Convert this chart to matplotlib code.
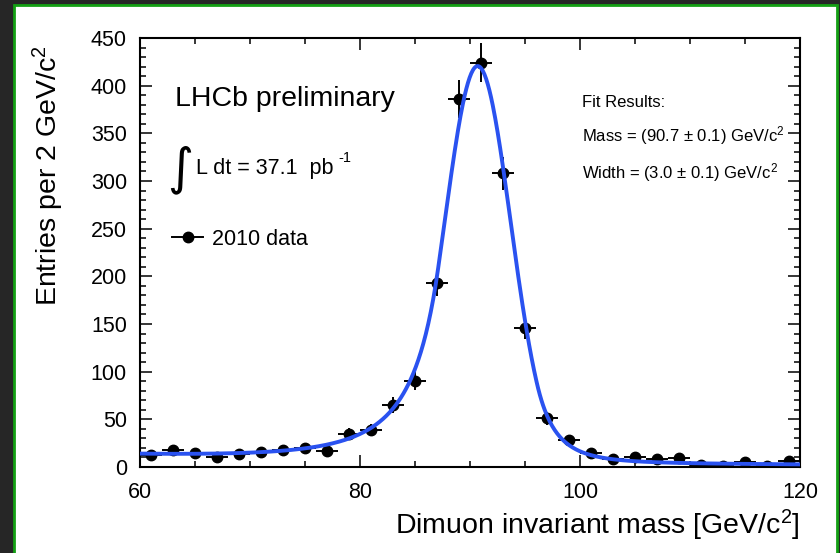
import matplotlib
matplotlib.use("Agg")
import matplotlib.pyplot as plt
import numpy as np
from matplotlib.lines import Line2D
from matplotlib.patches import Rectangle
from matplotlib.ticker import MultipleLocator

plt.rcParams['font.family'] = ['Liberation Sans', 'DejaVu Sans']
plt.rcParams['mathtext.fontset'] = 'custom'
plt.rcParams['mathtext.rm'] = 'Liberation Sans'
plt.rcParams['mathtext.it'] = 'Liberation Sans:italic'
plt.rcParams['mathtext.default'] = 'regular'

# dimuon mass histogram, 2 GeV bins between 60 and 120
bin_centres = [61, 63, 65, 67, 69, 71, 73, 75, 77, 79,
               81, 83, 85, 87, 89, 91, 93, 95, 97, 99,
               101, 103, 105, 107, 109, 111, 113, 115, 117, 119]
entries = [13, 18, 15, 11, 14, 16, 18, 20, 17, 35,
           39, 65, 90, 193, 386, 424, 308, 146, 51, 28,
           15, 8, 10, 8, 9, 2, 1, 5, 1, 6]
bin_half_width = 1.0

# fit: double sided crystal ball + falling exponential background
fit_mass = 90.7
fit_width = 3.0
fit_peak = 415.0
tail_left = (1.2, 3.0)    # alpha, n
tail_right = (1.8, 5.0)
bkg_norm = 12.0
bkg_slope = 0.025

W, H = 840, 553


def crystal_ball(x, mu, sigma, left, right):
    al, nl = left
    ar, nr = right
    t = (x - mu) / sigma
    y = np.exp(-0.5 * t ** 2)
    lo = t < -al
    y[lo] = np.exp(-0.5 * al ** 2) * ((nl / al) / (nl / al - al - t[lo])) ** nl
    hi = t > ar
    y[hi] = np.exp(-0.5 * ar ** 2) * ((nr / ar) / (nr / ar - ar + t[hi])) ** nr
    return y


def fit_curve(x):
    sig = fit_peak * crystal_ball(x, fit_mass, fit_width, tail_left, tail_right)
    bkg = bkg_norm * np.exp(-bkg_slope * (x - 60))
    return sig + bkg


def fx(px):
    return px / W


def fy(py):
    return 1 - py / H


fig = plt.figure(figsize=(W / 100, H / 100), dpi=100)
fig.patch.set_facecolor('#262626')
fig.add_artist(Rectangle((fx(14), -0.02), fx(823), fy(5) + 0.02,
                         transform=fig.transFigure, facecolor='white',
                         edgecolor='#14a014', linewidth=2.0, zorder=0))

ax = fig.add_axes([fx(140), fy(467), fx(660), (467 - 38) / H])
ax.set_xlim(60, 120)
ax.set_ylim(0, 450)

ax.errorbar(bin_centres, entries, xerr=bin_half_width, yerr=np.sqrt(entries),
            fmt='o', color='black', ms=7.5, elinewidth=1.4, capsize=0, zorder=3)

xs = np.linspace(60, 120, 800)
ax.plot(xs, fit_curve(xs), color='#2a52f0', lw=2.8, zorder=4)

ax.xaxis.set_major_locator(MultipleLocator(20))
ax.xaxis.set_minor_locator(MultipleLocator(5))
ax.yaxis.set_major_locator(MultipleLocator(50))
ax.yaxis.set_minor_locator(MultipleLocator(10))
ax.tick_params(which='both', direction='in', top=True, right=True,
               width=1.1, labelsize=15.5)
ax.tick_params(which='major', length=8.5)
ax.tick_params(which='minor', length=4.5)
ax.tick_params(axis='y', pad=9.4)
ax.tick_params(axis='x', pad=11)
for s in ax.spines.values():
    s.set_linewidth(1.5)

fig.text(fx(48), fy(176), 'Entries per 2 GeV/c$^2$', rotation=90,
         ha='center', va='center', fontsize=20.5)
fig.text(fx(800), fy(534), 'Dimuon invariant mass [GeV/c$^2$]',
         ha='right', va='baseline', fontsize=20.5)

fig.text(fx(175), fy(105.7), 'LHCb preliminary', fontsize=20.5, va='baseline')
fig.text(fx(180), fy(170), '\u222b', fontsize=36, ha='center', va='center',
         family=['DejaVu Sans'])
fig.text(fx(196), fy(174.3), 'L dt = 37.1  pb', fontsize=15.5, va='baseline')
fig.text(fx(338), fy(162), '-1', fontsize=10.5, va='baseline')

proxy = Line2D([], [], color='black', marker='o', ms=7.5, lw=1.4)
ax.legend(handles=[proxy], labels=['2010 data'], loc='upper left',
          bbox_to_anchor=(fx(172), fy(229)), bbox_transform=fig.transFigure,
          frameon=False, fontsize=15.5, handlelength=1.44, handletextpad=0.42,
          borderpad=0, borderaxespad=0)

fig.text(fx(581.7), fy(107.3), 'Fit Results:', fontsize=12, va='baseline')
fig.text(fx(581.7), fy(141.7), 'Mass = (90.7 \u00b1 0.1) GeV/c$^2$',
         fontsize=12, va='baseline')
fig.text(fx(581.7), fy(178.3), 'Width = (3.0 \u00b1 0.1) GeV/c$^2$',
         fontsize=12, va='baseline')

fig.savefig('out.png', dpi=100, facecolor=fig.get_facecolor())
